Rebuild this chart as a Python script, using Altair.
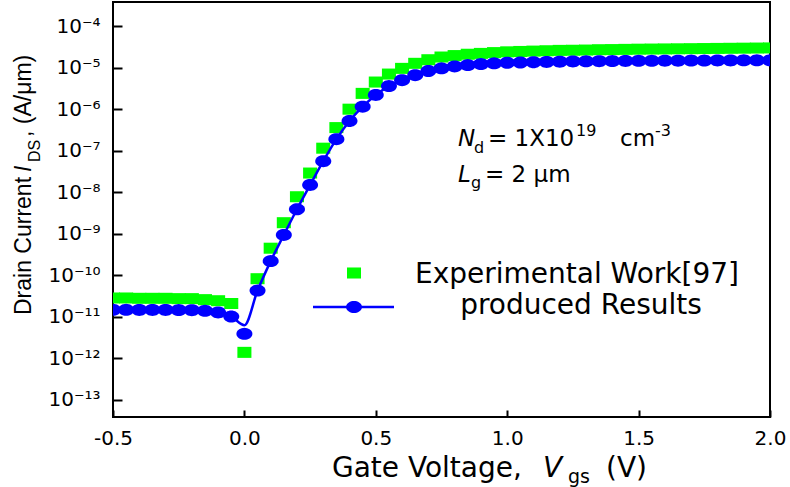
import numpy as np
import pandas as pd
import altair as alt

# ---------------- data ----------------
V = [-0.5, -0.45, -0.4, -0.35, -0.3, -0.25, -0.2, -0.15, -0.1, -0.05,
     0.0, 0.05, 0.1, 0.15, 0.2, 0.25, 0.3, 0.35, 0.4, 0.45,
     0.5, 0.55, 0.6, 0.65, 0.7, 0.75, 0.8, 0.85, 0.9, 0.95,
     1.0, 1.05, 1.1, 1.15, 1.2, 1.25, 1.3, 1.35, 1.4, 1.45,
     1.5, 1.55, 1.6, 1.65, 1.7, 1.75, 1.8, 1.85, 1.9, 1.95, 2.0]

# Experimental Work[97] (green squares)
I_exp = [2.85e-11, 2.85e-11, 2.8e-11, 2.8e-11, 2.8e-11, 2.75e-11, 2.75e-11, 2.6e-11, 2.45e-11, 2.1e-11,
         1.4e-12, 8.3e-11, 4.5e-10, 1.85e-9, 7.8e-9, 2.9e-8, 1.15e-7, 3.6e-7, 1.0e-6, 2.4e-6,
         4.5e-6, 7.0e-6, 9.6e-6, 1.27e-5, 1.55e-5, 1.8e-5, 1.95e-5, 2.1e-5, 2.2e-5, 2.3e-5,
         2.4e-5, 2.45e-5, 2.5e-5, 2.55e-5, 2.6e-5, 2.62e-5, 2.65e-5, 2.7e-5, 2.72e-5, 2.75e-5,
         2.78e-5, 2.8e-5, 2.82e-5, 2.84e-5, 2.86e-5, 2.88e-5, 2.9e-5, 2.92e-5, 2.94e-5, 2.96e-5, 2.98e-5]

# produced Results (blue circles)
I_sim = [1.48e-11, 1.48e-11, 1.47e-11, 1.47e-11, 1.47e-11, 1.46e-11, 1.45e-11, 1.4e-11, 1.28e-11, 1.02e-11,
         3.9e-12, 4.3e-11, 2.2e-10, 9.4e-10, 3.9e-9, 1.5e-8, 5.6e-8, 1.9e-7, 5.2e-7, 1.15e-6,
         2.2e-6, 3.6e-6, 5.0e-6, 6.6e-6, 8.3e-6, 9.6e-6, 1.07e-5, 1.15e-5, 1.22e-5, 1.27e-5,
         1.31e-5, 1.33e-5, 1.35e-5, 1.37e-5, 1.39e-5, 1.41e-5, 1.42e-5, 1.43e-5, 1.44e-5, 1.45e-5,
         1.46e-5, 1.46e-5, 1.47e-5, 1.47e-5, 1.48e-5, 1.48e-5, 1.49e-5, 1.49e-5, 1.5e-5, 1.5e-5, 1.5e-5]

# produced Results (blue curve; dips less deeply than the marker at 0 V)
I_line = [1.48e-11, 1.48e-11, 1.47e-11, 1.47e-11, 1.47e-11, 1.46e-11, 1.45e-11, 1.4e-11, 1.28e-11, 1.02e-11,
          6.3e-12, 4.3e-11, 2.2e-10, 9.4e-10, 3.9e-9, 1.5e-8, 5.6e-8, 1.9e-7, 5.2e-7, 1.15e-6,
          2.2e-6, 3.6e-6, 5.0e-6, 6.6e-6, 8.3e-6, 9.6e-6, 1.07e-5, 1.15e-5, 1.22e-5, 1.27e-5,
          1.31e-5, 1.33e-5, 1.35e-5, 1.37e-5, 1.39e-5, 1.41e-5, 1.42e-5, 1.43e-5, 1.44e-5, 1.45e-5,
          1.46e-5, 1.46e-5, 1.47e-5, 1.47e-5, 1.48e-5, 1.48e-5, 1.49e-5, 1.49e-5, 1.5e-5, 1.5e-5, 1.5e-5]

X_TICKS = [-0.5, 0.0, 0.5, 1.0, 1.5, 2.0]
Y_TICKS = [1e-13, 1e-12, 1e-11, 1e-10, 1e-9, 1e-8, 1e-7, 1e-6, 1e-5, 1e-4]

LEGEND_EXP = "Experimental Work[97]"
LEGEND_SIM = "produced Results"

# ---------------- layout / style ----------------
W, H = 657, 415
OX, OY = 113, 2
FONT = "DejaVu Sans"
FONT_V = "Liberation Sans"
GREEN = "#00ff00"
BLUE = "#0000ff"

SUP = str.maketrans("0123456789-", "\u2070\u00b9\u00b2\u00b3\u2074\u2075\u2076\u2077\u2078\u2079\u207b")


def ylab(v):
    e = int(round(np.log10(v)))
    return "10" + str(e).translate(SUP)


y_label_expr = " : ".join(
    f"abs(log(datum.value)/LN10 - ({int(round(np.log10(v)))})) < 0.01 ? '{ylab(v)}'" for v in Y_TICKS
) + " : ''"

x_axis = alt.Axis(values=X_TICKS, title=None, domain=False, grid=False,
                  labelExpr="replace(format(datum.value, '.1f'), '\u2212', '-')",
                  tickSize=7, tickWidth=2, tickColor="black", offset=-7, labelPadding=11,
                  labelFont=FONT, labelFontSize=20, labelColor="black",
                  labelFlush=False, labelOverlap=False)
y_axis = alt.Axis(values=Y_TICKS, title=None, domain=False, grid=False,
                  labelExpr=y_label_expr,
                  tickSize=9, tickWidth=2, tickColor="black", offset=-9, labelPadding=13,
                  labelFont=FONT, labelFontSize=20, labelColor="black",
                  labelFlush=False, labelOverlap=False)

X = alt.X("V:Q", scale=alt.Scale(domain=[-0.5, 2.0], nice=False, zero=False), axis=x_axis)
Y = alt.Y("I:Q", scale=alt.Scale(type="log", domain=[10 ** -13.41, 10 ** -3.42], nice=False), axis=y_axis)

# marker shapes (slightly wide, as in the reference)
SQ = "M-1.17,-0.92L1.17,-0.92L1.17,0.92L-1.17,0.92Z"
ang = np.linspace(0, 2 * np.pi, 36, endpoint=False)
ELL = "M" + "L".join(f"{1.33 * np.cos(a):.3f},{np.sin(a):.3f}" for a in ang) + "Z"

df_exp = pd.DataFrame({"V": V, "I": I_exp})
df_sim = pd.DataFrame({"V": V, "I": I_sim})
df_line = pd.DataFrame({"V": V, "I": I_line})
one = pd.DataFrame({"k": [0]})

green = alt.Chart(df_exp).mark_point(shape=SQ, filled=True, size=144, color=GREEN, opacity=1,
                                     strokeWidth=0, clip=True).encode(x=X, y=Y)
line = alt.Chart(df_line).mark_line(color=BLUE, strokeWidth=2.5, interpolate="monotone",
                                    clip=True).encode(x=X, y=Y)
circles = alt.Chart(df_sim).mark_point(shape=ELL, filled=True, size=144, color=BLUE, opacity=1,
                                       strokeWidth=0, clip=True).encode(x=X, y=Y)


def txt(s, x, y, size, font=FONT, style="normal", align="left", angle=0):
    return alt.Chart(one).mark_text(text=s, font=font, fontSize=size, fontStyle=style, align=align,
                                    baseline="alphabetic", angle=angle, color="black").encode(
        x=alt.value(x - OX), y=alt.value(y - OY))


texts = [
    # y-axis title (rotated)
    txt("Drain Current", 31, 315, 23, font=FONT_V, angle=270),
    txt("I", 31, 172, 23, font=FONT_V, style="italic", angle=270),
    txt("DS", 40, 162, 16, font=FONT_V, angle=270),
    txt(", (A/\u03bcm)", 31, 137, 23, font=FONT_V, angle=270),
    # x-axis title
    txt("Gate Voltage,", 332, 477, 28),
    txt("V", 543, 477, 28, style="italic"),
    txt("gs", 568, 483, 19),
    txt("(V)", 606, 477, 28),
    # annotation
    txt("N", 458, 146, 23, style="italic"),
    txt("d", 474, 153, 16),
    txt("= 1X10", 488, 146, 23),
    txt("19", 576, 136, 16),
    txt("cm", 620, 146, 23),
    txt("-3", 655, 136, 16),
    txt("L", 458, 182, 23, style="italic"),
    txt("g", 471, 188, 16),
    txt("= 2 \u03bcm", 485, 182, 23),
    # legend labels
    txt(LEGEND_EXP, 577, 283, 28, align="center"),
    txt(LEGEND_SIM, 581, 314, 28, align="center"),
]

leg_sq = alt.Chart(one).mark_point(shape=SQ, filled=True, size=144, color=GREEN, opacity=1,
                                   strokeWidth=0).encode(x=alt.value(354 - OX), y=alt.value(273 - OY))
leg_line = alt.Chart(one).mark_rule(color=BLUE, strokeWidth=2.5).encode(
    x=alt.value(313 - OX), x2=alt.value(394 - OX), y=alt.value(307 - OY))
leg_circ = alt.Chart(one).mark_point(shape=ELL, filled=True, size=144, color=BLUE, opacity=1,
                                     strokeWidth=0).encode(x=alt.value(354 - OX), y=alt.value(307 - OY))

chart = alt.layer(green, line, circles, leg_sq, leg_line, leg_circ, *texts).properties(
    width=W, height=H,
    autosize=alt.AutoSizeParams(type="none"),
    padding={"left": OX, "top": OY, "right": 790 - OX - W, "bottom": 487 - OY - H},
    background="white",
).configure_view(stroke="black", strokeWidth=2)

chart.save("out.html", embed_options={"renderer": "svg", "actions": False})
